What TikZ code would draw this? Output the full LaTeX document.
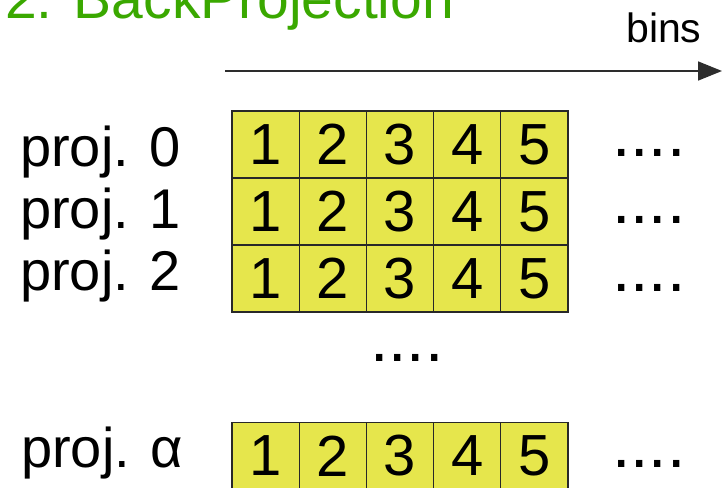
\documentclass[tikz,border=0pt]{standalone}
\usepackage{fontspec}
\setmainfont{Liberation Sans}
\usetikzlibrary{arrows.meta}
\definecolor{titlegreen}{RGB}{58,168,0}
\definecolor{binyellow}{RGB}{230,230,76}
\definecolor{gridline}{RGB}{40,40,40}
\definecolor{axisgray}{RGB}{45,45,45}
\tikzset{
  bincell/.style={draw=gridline, line width=1.3pt, fill=binyellow,
    minimum width=67.2pt, minimum height=67pt, inner sep=0pt,
    font=\fontsize{58}{58}\selectfont},
  rowlabel/.style={anchor=base west, inner sep=0pt,
    font=\fontsize{56}{56}\selectfont},
  ellipsis/.style={anchor=base west, inner sep=0pt,
    font=\fontsize{66}{66}\selectfont},
}
\begin{document}
\begin{tikzpicture}[x=1pt,y=-1pt]
  \useasboundingbox (0,0) rectangle (722,487);

  % heading
  \node[anchor=base west, inner sep=0pt, text=titlegreen,
        font=\fontsize{57}{57}\selectfont] (title) at (5,19) {2. BackProjection};

  % bin axis
  \node[anchor=base west, inner sep=0pt, font=\fontsize{41}{41}\selectfont]
    (bins) at (626,42) {bins};
  \coordinate (axisstart) at (225,71);
  \coordinate (axisend) at (722,71);
  \draw[axisgray, line width=1.6pt, -{Triangle[length=24pt,width=19pt]}]
    (axisstart) -- (axisend);

  % projection labels
  \node[rowlabel] (lab0) at (20,166) {proj. 0};
  \node[rowlabel] (lab1) at (20,228) {proj. 1};
  \node[rowlabel] (lab2) at (20,290) {proj. 2};
  \node[rowlabel] (laba) at (21,467) {proj. α};

  % bin cells: rows 0,1,2 and the last projection
  \foreach \r/\y in {0/144.5, 1/211.5, 2/278.5, a/456} {
    \foreach \c in {1,...,5} {
      \node[bincell] (cell\r\c) at ({232+33.6+67.2*(\c-1)},\y) {\c};
    }
  }

  % continuation dots
  \node[ellipsis] (more0) at (612,156) {....};
  \node[ellipsis] (more1) at (612,223) {....};
  \node[ellipsis] (more2) at (612,291) {....};
  \node[ellipsis] (morerows) at (370,361) {....};
  \node[ellipsis] (morea) at (612,467) {....};
\end{tikzpicture}
\end{document}
